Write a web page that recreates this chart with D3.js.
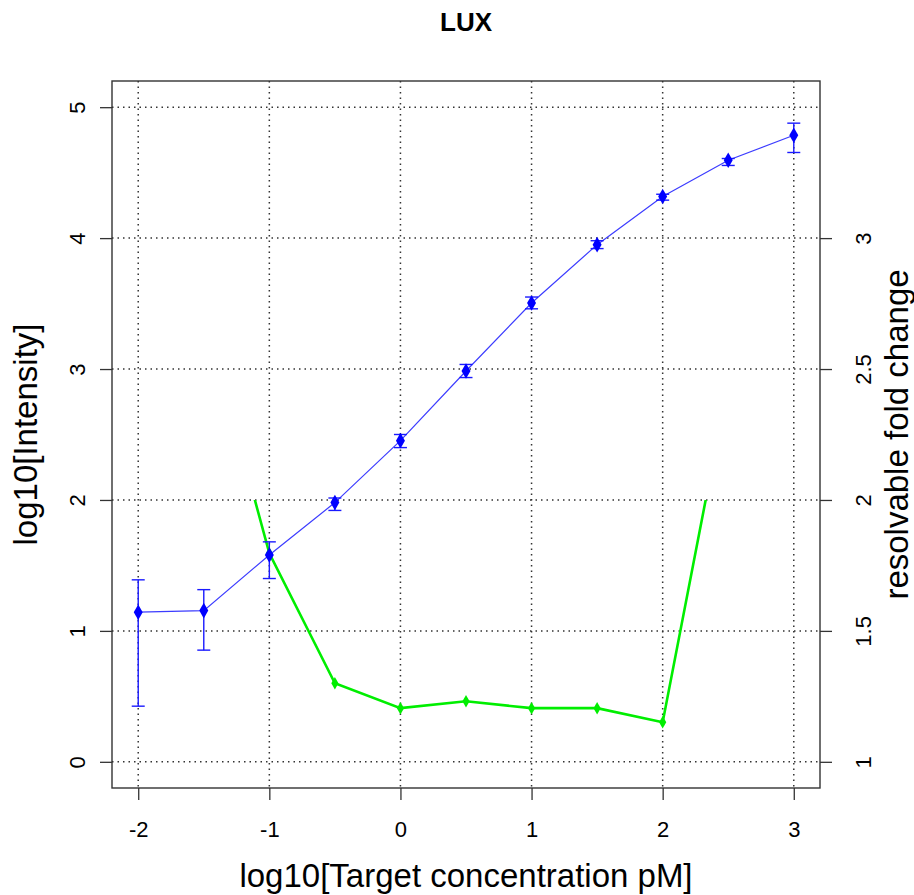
<!DOCTYPE html>
<html>
<head>
<meta charset="utf-8">
<script src="https://cdn.jsdelivr.net/npm/d3@7"></script>
<style>
  body { margin: 0; background: #fff; }
  text { font-family: "Liberation Sans", Arial, sans-serif; fill: #000; }
</style>
</head>
<body>
<div class="chart-container"></div>
<script>
// data
const concLog = [-2, -1.5, -1, -0.5, 0, 0.5, 1, 1.5, 2, 2.5, 3]
const intensity = [1.143, 1.155, 1.58, 1.98, 2.453, 2.985, 3.504, 3.95, 4.318, 4.595, 4.786]
const errLow = [0.425, 0.853, 1.40, 1.92, 2.40, 2.935, 3.46, 3.92, 4.29, 4.555, 4.654]
const errHigh = [1.39, 1.315, 1.68, 2.015, 2.50, 3.035, 3.55, 3.98, 4.335, 4.608, 4.878]

// resolvable fold change (right axis), line is cut off above 2
const foldConc = [-1.5, -1, -0.5, 0, 0.5, 1, 1.5, 2, 2.5]
const foldChange = [2.72, 1.796, 1.30, 1.205, 1.231, 1.205, 1.205, 1.151, 2.445]

const xTicks = [-2, -1, 0, 1, 2, 3]
const yTicks = [0, 1, 2, 3, 4, 5]
const yRightTicks = [1, 1.5, 2, 2.5, 3]

const title = "LUX"
const xLabel = "log10[Target concentration pM]"
const yLabel = "log10[Intensity]"
const yRightLabel = "resolvable fold change"

// Margin Convention
const width = 914, height = 895
const margin = { top: 81, right: 94, bottom: 107, left: 112 }
const plotW = width - margin.left - margin.right
const plotH = height - margin.top - margin.bottom

const xScale = d3.scaleLinear().domain([-2.2, 3.2]).range([0, plotW])
const yScale = d3.scaleLinear().domain([-0.2, 5.2]).range([plotH, 0])
const yRight = d3.scaleLinear().domain([0.9, 3.6]).range([plotH, 0])

// plain hyphen for negatives, like the original
const plainFmt = d => String(d)

const svg = d3.select('.chart-container')
    .append('svg')
    .attr('width', width)
    .attr('height', height)

svg.append('rect').attr('width', width).attr('height', height).attr('fill', '#fff')

const g = svg.append('g')
    .attr('transform', `translate(${margin.left}, ${margin.top})`)

// clip paths
const defs = svg.append('defs')
defs.append('clipPath').attr('id', 'plot-clip')
    .append('rect').attr('width', plotW).attr('height', plotH)
defs.append('clipPath').attr('id', 'fold-clip')
    .append('rect')
    .attr('y', yRight(2))
    .attr('width', plotW)
    .attr('height', plotH - yRight(2))

// grid
const grid = g.append('g').attr('class', 'grid')
grid.selectAll('.vgrid')
    .data(xTicks)
    .join('line')
    .attr('x1', d => xScale(d)).attr('x2', d => xScale(d))
    .attr('y1', 0).attr('y2', plotH)
grid.selectAll('.hgrid')
    .data(yTicks)
    .join('line')
    .attr('class', 'hgrid')
    .attr('x1', 0).attr('x2', plotW)
    .attr('y1', d => yScale(d)).attr('y2', d => yScale(d))
grid.selectAll('line')
    .attr('stroke', '#333')
    .attr('stroke-width', 1.5)
    .attr('stroke-dasharray', '1.5,4')

// Draw Axes
const tickFont = '22px'

const xAxis = d3.axisBottom(xScale).tickValues(xTicks).tickSize(12).tickFormat(plainFmt)
const xAxisDraw = g.append('g')
    .attr('transform', `translate(0, ${plotH})`)
    .call(xAxis)
xAxisDraw.selectAll('text')
    .attr('y', 41).attr('dy', '0.35em')
    .style('font-size', tickFont)

const yAxis = d3.axisLeft(yScale).tickValues(yTicks).tickSize(12).tickFormat(plainFmt)
const yAxisDraw = g.append('g').call(yAxis)
yAxisDraw.selectAll('text')
    .attr('x', null).attr('dy', '0.35em')
    .attr('text-anchor', 'middle')
    .attr('transform', 'translate(-35,0) rotate(-90)')
    .style('font-size', tickFont)

const yAxisR = d3.axisRight(yRight).tickValues(yRightTicks).tickSize(12).tickFormat(plainFmt)
const yAxisRDraw = g.append('g')
    .attr('transform', `translate(${plotW}, 0)`)
    .call(yAxisR)
yAxisRDraw.selectAll('text')
    .attr('x', null).attr('dy', '0.35em')
    .attr('text-anchor', 'middle')
    .attr('transform', 'translate(43,0) rotate(-90)')
    .style('font-size', tickFont)

g.selectAll('.domain').remove()
g.selectAll('.tick line').attr('stroke', '#333').attr('stroke-width', 1.3)
g.selectAll('.tick text').attr('fill', '#000').style('font-family', '"Liberation Sans", Arial, sans-serif')

// green fold change line
const foldData = foldConc.map((c, i) => ({ x: c, v: foldChange[i] }))
const foldG = g.append('g').attr('clip-path', 'url(#fold-clip)')
foldG.append('path')
    .datum(foldData)
    .attr('fill', 'none')
    .attr('stroke', '#00ee00')
    .attr('stroke-width', 2.6)
    .attr('d', d3.line().x(d => xScale(d.x)).y(d => yRight(d.v)))
foldG.selectAll('.fold-pt')
    .data(foldData)
    .join('path')
    .attr('transform', d => `translate(${xScale(d.x)}, ${yRight(d.v)})`)
    .attr('d', d3.symbol(d3.symbolDiamond, 45))
    .attr('fill', '#00ee00')

// blue intensity line with error bars
const blueData = concLog.map((c, i) => ({ x: c, y: intensity[i], lo: errLow[i], hi: errHigh[i] }))
const blueG = g.append('g').attr('clip-path', 'url(#plot-clip)')
blueG.append('path')
    .datum(blueData)
    .attr('fill', 'none')
    .attr('stroke', '#3c3cff')
    .attr('stroke-width', 1.2)
    .attr('d', d3.line().x(d => xScale(d.x)).y(d => yScale(d.y)))

const cap = 6.5
const errG = blueG.selectAll('.err')
    .data(blueData)
    .join('g')
    .attr('stroke', '#1a1aff')
    .attr('stroke-width', 1.4)
errG.append('line')
    .attr('x1', d => xScale(d.x)).attr('x2', d => xScale(d.x))
    .attr('y1', d => yScale(d.lo)).attr('y2', d => yScale(d.hi))
errG.append('line')
    .attr('x1', d => xScale(d.x) - cap).attr('x2', d => xScale(d.x) + cap)
    .attr('y1', d => yScale(d.lo)).attr('y2', d => yScale(d.lo))
errG.append('line')
    .attr('x1', d => xScale(d.x) - cap).attr('x2', d => xScale(d.x) + cap)
    .attr('y1', d => yScale(d.hi)).attr('y2', d => yScale(d.hi))

blueG.selectAll('.pt')
    .data(blueData)
    .join('path')
    .attr('transform', d => `translate(${xScale(d.x)}, ${yScale(d.y)})`)
    .attr('d', d3.symbol(d3.symbolDiamond, 70))
    .attr('fill', '#0000ff')

// box
g.append('rect')
    .attr('width', plotW).attr('height', plotH)
    .attr('fill', 'none')
    .attr('stroke', '#333')
    .attr('stroke-width', 1.4)

// title and labels
svg.append('text')
    .attr('x', margin.left + plotW / 2).attr('y', 31)
    .attr('text-anchor', 'middle')
    .style('font-size', '26px')
    .style('font-weight', 'bold')
    .text(title)

svg.append('text')
    .attr('x', margin.left + plotW / 2).attr('y', 887)
    .attr('text-anchor', 'middle')
    .style('font-size', '33px')
    .text(xLabel)

svg.append('text')
    .attr('transform', `translate(25, ${margin.top + plotH / 2}) rotate(-90)`)
    .attr('text-anchor', 'middle')
    .attr('dy', '0.35em')
    .style('font-size', '33px')
    .text(yLabel)

svg.append('text')
    .attr('transform', `translate(896, ${margin.top + plotH / 2}) rotate(-90)`)
    .attr('text-anchor', 'middle')
    .attr('dy', '0.35em')
    .style('font-size', '33px')
    .text(yRightLabel)
</script>
</body>
</html>
